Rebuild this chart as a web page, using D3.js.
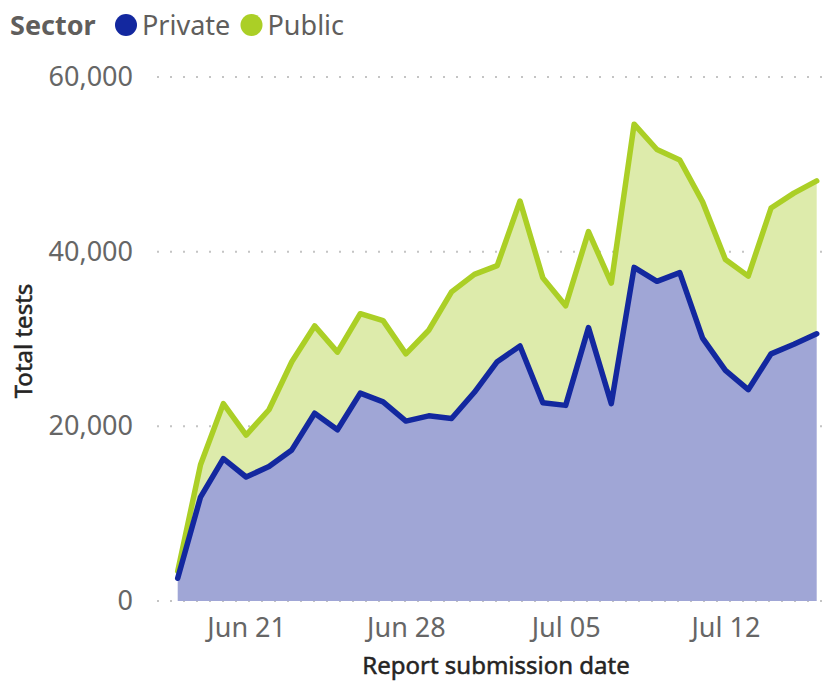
<!DOCTYPE html>
<html>
<head>
<meta charset="utf-8">
<script src="https://cdn.jsdelivr.net/npm/d3@7"></script>
<style>
  body { margin: 0; background: #fff; font-family: "Segoe UI", "Noto Sans", sans-serif; }
  .tick text { fill: #666; }
</style>
</head>
<body>
<div id="chart"></div>
<script>
// report submission dates, Jun 18 .. Jul 16
const dates = d3.timeDays(new Date(2020, 5, 18), new Date(2020, 6, 17));

const privateTests = [
  2600, 11900, 16300, 14200, 15400, 17300, 21500, 19600, 23800, 22800,
  20600, 21200, 20900, 23900, 27400, 29200, 22700, 22400, 31300, 22600,
  38200, 36600, 37600, 30100, 26400, 24200, 28300, 29400, 30600
];
const totalTests = [
  3400, 15600, 22600, 19000, 21900, 27400, 31500, 28500, 32900, 32100,
  28300, 31000, 35400, 37400, 38400, 45800, 37000, 33800, 42300, 36400,
  54600, 51700, 50500, 45700, 39100, 37200, 45000, 46700, 48100
];
const publicTests = totalTests.map((t, i) => t - privateTests[i]);

const yTicks = [0, 20000, 40000, 60000];
const xTicks = [new Date(2020, 5, 21), new Date(2020, 5, 28), new Date(2020, 6, 5), new Date(2020, 6, 12)];
const sectors = ["Private", "Public"];
const lineColors = {Private: "#13289f", Public: "#abcf26"};
const fillColors = {Private: "#a0a6d6", Public: "#ddebab"};

const width = 829, height = 682;
const svg = d3.select("#chart").append("svg")
    .attr("width", width)
    .attr("height", height);

const x = d3.scaleTime()
    .domain([dates[0], dates[dates.length - 1]])
    .range([177.7, 816.7]);
const y = d3.scaleLinear()
    .domain([0, 60000])
    .range([601, 77]);

const rows = dates.map((d, i) => ({date: d, Private: privateTests[i], Public: publicTests[i]}));
const series = d3.stack().keys(sectors)(rows);

// gridlines
svg.append("g")
    .selectAll("line")
    .data(yTicks)
    .join("line")
    .attr("x1", 157).attr("x2", 822)
    .attr("y1", d => y(d)).attr("y2", d => y(d))
    .attr("stroke", "#c4c4c4")
    .attr("stroke-width", 2)
    .attr("stroke-dasharray", "2,11");

// areas
const area = d3.area()
    .x(d => x(d.data.date))
    .y0(d => y(d[0]))
    .y1(d => y(d[1]));

svg.append("g")
    .selectAll("path")
    .data(series)
    .join("path")
    .attr("fill", s => fillColors[s.key])
    .attr("d", area);

const line = d3.line()
    .x(d => x(d.data.date))
    .y(d => y(d[1]));

svg.append("g")
    .selectAll("path")
    .data(series.slice().reverse())
    .join("path")
    .attr("fill", "none")
    .attr("stroke", s => lineColors[s.key])
    .attr("stroke-width", 5.5)
    .attr("stroke-linejoin", "round")
    .attr("stroke-linecap", "round")
    .attr("d", line);

// y axis
const yAxis = svg.append("g")
    .attr("transform", "translate(133,0)")
    .call(d3.axisLeft(y).tickValues(yTicks).tickFormat(d3.format(",")).tickSize(0).tickPadding(0));
yAxis.select(".domain").remove();
yAxis.selectAll("text")
    .style("font-size", "27px")
    .style("font-family", "'Segoe UI', 'Noto Sans', sans-serif");

// x axis
const xAxis = svg.append("g")
    .attr("transform", "translate(0,610)")
    .call(d3.axisBottom(x).tickValues(xTicks).tickFormat(d3.timeFormat("%b %d")).tickSize(0).tickPadding(8));
xAxis.select(".domain").remove();
xAxis.selectAll("text")
    .style("font-size", "27px")
    .style("font-family", "'Segoe UI', 'Noto Sans', sans-serif");

// axis titles (medium weight)
svg.append("text")
    .attr("x", 496).attr("y", 674)
    .attr("text-anchor", "middle")
    .attr("fill", "#252423")
    .attr("stroke", "#252423")
    .attr("stroke-width", 0.5)
    .style("font-size", "24px")
    .text("Report submission date");

svg.append("text")
    .attr("transform", "translate(32,341) rotate(-90)")
    .attr("text-anchor", "middle")
    .attr("fill", "#252423")
    .attr("stroke", "#252423")
    .attr("stroke-width", 0.5)
    .style("font-size", "24px")
    .text("Total tests");

// legend
const legend = svg.append("g").attr("transform", "translate(10,35)");
legend.append("text")
    .attr("fill", "#605e5c")
    .style("font-size", "27px")
    .style("font-weight", "bold")
    .text("Sector");
const legendX = [116, 241.5];
sectors.forEach((s, i) => {
    legend.append("circle")
        .attr("cx", legendX[i]).attr("cy", -10)
        .attr("r", 11)
        .attr("fill", lineColors[s]);
    legend.append("text")
        .attr("x", legendX[i] + 16)
        .attr("fill", "#605e5c")
        .style("font-size", "27px")
        .text(s);
});
</script>
</body>
</html>
